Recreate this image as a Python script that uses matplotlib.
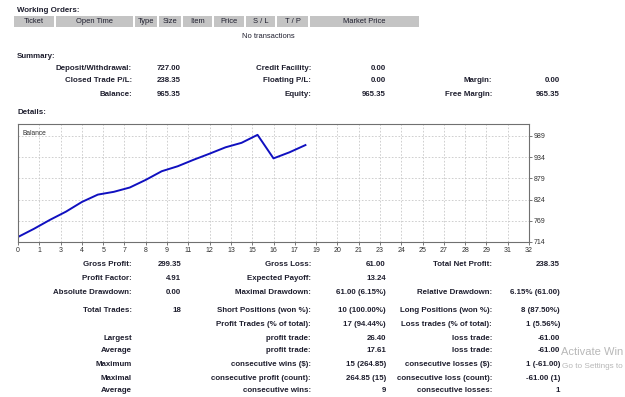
import numpy as np
import matplotlib
matplotlib.use("Agg")
import matplotlib.pyplot as plt
from matplotlib.patches import Rectangle

order_columns = ["Ticket", "Open Time", "Type", "Size", "Item", "Price", "S / L", "T / P", "Market Price"]

summary_labels_1 = ["Deposit/Withdrawal:", "Closed Trade P/L:", "Balance:"]
summary_values_1 = ["727.00", "238.35", "965.35"]
summary_labels_2 = ["Credit Facility:", "Floating P/L:", "Equity:"]
summary_values_2 = ["0.00", "0.00", "965.35"]
summary_labels_3 = ["", "Margin:", "Free Margin:"]
summary_values_3 = ["", "0.00", "965.35"]

# balance after each closed trade (trade 0 = initial deposit)
trade_no = list(range(19))
balance = [727.00, 748.20, 771.40, 792.60, 817.80, 836.90, 844.10, 855.30, 875.10,
           897.50, 910.40, 927.30, 943.10, 959.60, 971.20, 991.85, 930.85, 946.60, 965.35]
y_ticks = [714, 769, 824, 879, 934, 989]

detail_labels_1 = ["Gross Profit:", "Profit Factor:", "Absolute Drawdown:", "Total Trades:", "",
                   "Largest", "Average", "Maximum", "Maximal", "Average"]
detail_values_1 = ["299.35", "4.91", "0.00", "18", "", "", "", "", "", ""]
detail_labels_2 = ["Gross Loss:", "Expected Payoff:", "Maximal Drawdown:", "Short Positions (won %):",
                   "Profit Trades (% of total):", "profit trade:", "profit trade:",
                   "consecutive wins ($):", "consecutive profit (count):", "consecutive wins:"]
detail_values_2 = ["61.00", "13.24", "61.00 (6.15%)", "10 (100.00%)", "17 (94.44%)", "26.40",
                   "17.61", "15 (264.85)", "264.85 (15)", "9"]
detail_labels_3 = ["Total Net Profit:", "", "Relative Drawdown:", "Long Positions (won %):",
                   "Loss trades (% of total):", "loss trade:", "loss trade:",
                   "consecutive losses ($):", "consecutive loss (count):", "consecutive losses:"]
detail_values_3 = ["238.35", "", "6.15% (61.00)", "8 (87.50%)", "1 (5.56%)", "-61.00", "-61.00",
                   "1 (-61.00)", "-61.00 (1)", "1"]

# the part of the windows watermark that shows at the right edge
watermark = ["Activate Win", "Go to Settings to"]

# ---- layout (pixels) ----
W, H = 625, 397
FONT = "Liberation Sans"
TXT = "#1e1e2e"
FS = 5.7

fig = plt.figure(figsize=(W / 100, H / 100), dpi=100)
fig.patch.set_facecolor("white")


def px(x, y):
    return x / W, 1 - y / H


def put(x, y, s, ha="left", bold=True, size=FS, color=TXT):
    fx, fy = px(x, y)
    fig.text(fx, fy, s, ha=ha, va="center", fontsize=size, family=FONT,
             fontweight="bold" if bold else "normal", color=color)


# working orders
put(17, 10, "Working Orders:")
cells = [(14, 54), (56, 133), (135, 157), (159, 181), (183, 212), (214, 244), (246, 275), (277, 308), (310, 419)]
for (l, r), name in zip(cells, order_columns):
    fx, fy = px(l, 27)
    fig.patches.append(Rectangle((fx, fy), (r - l) / W, 11 / H, transform=fig.transFigure,
                                 facecolor="#c4c4c4", edgecolor="none"))
    put((l + r) / 2, 21.5, name, ha="center", bold=False, size=5.4)
put(268, 37, "No transactions", ha="center", bold=False, size=5.4)

# summary
put(17, 56, "Summary:")
summary_y = [68, 81, 95]
for i, y in enumerate(summary_y):
    put(132, y, summary_labels_1[i], ha="right")
    put(181, y, summary_values_1[i], ha="right")
    put(311, y, summary_labels_2[i], ha="right")
    put(386, y, summary_values_2[i], ha="right")
    put(492, y, summary_labels_3[i], ha="right")
    put(560, y, summary_values_3[i], ha="right")

put(17, 112, "Details:")

# balance chart
l, t, r, b = 18, 124, 529, 242
ax = fig.add_axes([l / W, 1 - b / H, (r - l) / W, (b - t) / H])
ax.plot(trade_no, balance, color="#1010c0", lw=1.4, solid_joinstyle="round")
ax.set_xlim(0, 32)
ax.set_ylim(714, 1020)
xt = [i * 4 / 3 for i in range(25)]
ax.set_xticks(xt)
ax.set_xticklabels([str(int(round(v))) for v in xt])
ax.set_yticks(y_ticks)
ax.yaxis.tick_right()
ax.tick_params(axis="both", labelsize=5, length=2, width=0.6, color="#606060", pad=1.5,
               labelcolor="#303030")
for lab in ax.get_xticklabels() + ax.get_yticklabels():
    lab.set_family(FONT)
ax.grid(True, color="#c8c8c8", lw=0.6, ls=(0, (2, 2)))
for sp in ax.spines.values():
    sp.set_color("#707070")
    sp.set_linewidth(0.8)
ax.text(0.008, 0.95, "Balance", transform=ax.transAxes, ha="left", va="top",
        fontsize=4.8, family=FONT, color="#303030")

# details
detail_y = [265, 279, 293, 311, 324, 338, 351, 364, 378, 391]
for i, y in enumerate(detail_y):
    put(132, y, detail_labels_1[i], ha="right")
    put(181, y, detail_values_1[i], ha="right")
    put(311, y, detail_labels_2[i], ha="right")
    put(386, y, detail_values_2[i], ha="right")
    put(492, y, detail_labels_3[i], ha="right")
    put(560, y, detail_values_3[i], ha="right")

# windows watermark (cut at the screen edge in the original, kept inside here)
put(623, 352, watermark[0], ha="right", bold=False, size=8.0, color="#b8b8b8")
put(623, 367, watermark[1], ha="right", bold=False, size=5.9, color="#b8b8b8")

fig.savefig("out.png", dpi=100)
